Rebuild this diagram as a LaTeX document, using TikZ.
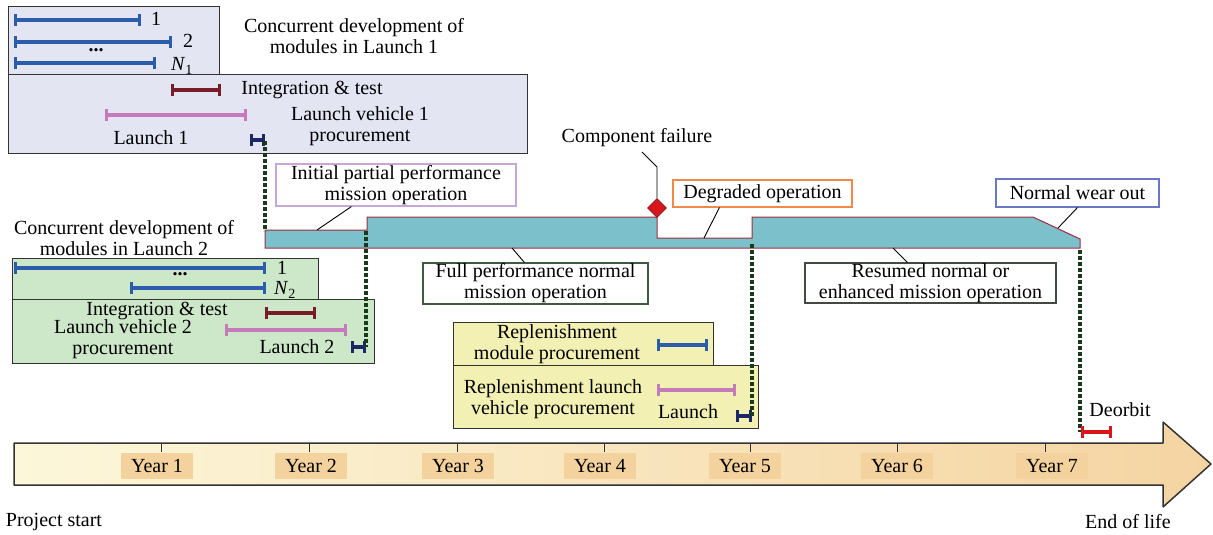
\documentclass[tikz,border=0pt]{standalone}
\usepackage{fontspec}
\setmainfont{Liberation Serif}
\usetikzlibrary{arrows.meta,shapes.geometric}
\definecolor{modblue}{HTML}{2B5DAA}
\definecolor{itred}{HTML}{7A1C28}
\definecolor{lvpink}{HTML}{C57AB9}
\definecolor{lnavy}{HTML}{1C2766}
\definecolor{lav}{HTML}{E3E5F3}
\definecolor{grn}{HTML}{CDE7C9}
\definecolor{yel}{HTML}{F2F0B2}
\definecolor{opsteal}{HTML}{7BC0CA}
\definecolor{opsedge}{HTML}{9B2E3E}
\definecolor{dotg}{HTML}{1A3A1A}
\definecolor{failred}{HTML}{D8161B}
\definecolor{tlA}{HTML}{FCF7DA}
\definecolor{tlB}{HTML}{F5D4A2}
\definecolor{yrbox}{HTML}{F4D29E}
\definecolor{edgeinit}{HTML}{C5A8D8}
\definecolor{edgedeg}{HTML}{F0894A}
\definecolor{edgewear}{HTML}{6A78C8}
\definecolor{edgefull}{HTML}{3F5B3F}
\definecolor{edgeres}{HTML}{404A40}
\definecolor{frame}{HTML}{333333}
\begin{document}
\begin{tikzpicture}[x=1pt,y=-1pt,
  every node/.style={font=\fontsize{20}{21}\selectfont, inner sep=0pt, align=center},
  grpbox/.style={draw=frame, line width=1pt},
  bar/.style={line width=3.4pt, {Bar[width=12pt,line width=2.6pt]}-{Bar[width=12pt,line width=2.6pt]}},
  dotln/.style={draw=dotg, line width=4pt, dash pattern=on 4pt off 2pt},
  callout/.style={draw=black, line width=0.9pt},
  lblbox/.style={draw, fill=white, line width=1.1pt},
  yearlbl/.style={fill=yrbox, minimum width=72pt, minimum height=26pt},
  opsbar/.style={fill=opsteal, draw=opsedge, line width=1pt}
]
\useasboundingbox (0,0) rectangle (1213,535);

% ---------- Launch 1 group ----------
\draw[grpbox, fill=lav] (8,7) rectangle (219,75);
\draw[grpbox, fill=lav] (8,75) rectangle (527,153);
\draw[bar, modblue] (14,20) -- (141,20);
\draw[bar, modblue] (14,42) -- (172,42);
\draw[bar, modblue] (14,63) -- (156,63);
\node (m1) at (156,19) {1};
\node (m2) at (188,41) {2};
\node (md1) at (96,50) {\textbf{...}};
\node (mn1) at (182,66) {\textit{N}\textsubscript{1}};
\node (c1) at (354,36) {\fontsize{20}{25}\selectfont Concurrent development of\\modules in Launch 1};
\draw[bar, itred] (171,90) -- (221,90);
\node (it1) at (312,90) {Integration \& test};
\draw[bar, lvpink] (105,115) -- (247,115);
\node (lv1) at (360,126) {\fontsize{20}{22}\selectfont Launch vehicle 1\\procurement};
\node (la1) at (151,138) {Launch 1};
\draw[bar, lnavy] (250,140) -- (265,140);
\coordinate (l1end) at (265,141);

% ---------- Launch 2 group ----------
\node (c2) at (124,238) {\fontsize{20}{23}\selectfont Concurrent development of\\modules in Launch 2};
\draw[grpbox, fill=grn] (12,258) rectangle (318,299);
\draw[grpbox, fill=grn] (12,299) rectangle (374,363);
\draw[bar, modblue] (14,268) -- (266,268);
\draw[bar, modblue] (130,288) -- (266,288);
\node (m21) at (282,268) {1};
\node (md2) at (180,274) {\textbf{...}};
\node (mn2) at (285,290) {\textit{N}\textsubscript{2}};
\draw[bar, itred] (265,313) -- (316,313);
\node (it2) at (157,311) {Integration \& test};
\draw[bar, lvpink] (225,330) -- (347,330);
\node (lv2) at (123,339) {\fontsize{20}{19}\selectfont Launch vehicle 2\\procurement};
\node (la2) at (297,347) {Launch 2};
\draw[bar, lnavy] (351,347) -- (366,347);
\coordinate (l2end) at (366,347);

% ---------- Replenishment ----------
\draw[grpbox, fill=yel] (453,322) rectangle (713,365);
\draw[grpbox, fill=yel] (453,365) rectangle (758,428);
\node (rp1) at (557,344) {\fontsize{20}{20}\selectfont Replenishment\\module procurement};
\draw[bar, modblue] (657,345) -- (708,345);
\node (rp2) at (553,399) {\fontsize{20}{20}\selectfont Replenishment launch\\vehicle procurement};
\draw[bar, lvpink] (657,390) -- (736,390);
\node (la3) at (688,412) {Launch};
\draw[bar, lnavy] (736,416) -- (752,416);
\coordinate (l3end) at (752,416);

% ---------- Operations bar ----------
\draw[opsbar] (265,248) -- (265,230) -- (367,230) -- (367,217) -- (657,217) -- (657,238)
  -- (752,238) -- (752,217) -- (1033,217) -- (1080,239) -- (1080,248) -- cycle;
\coordinate (opsstart) at (265,231);
\coordinate (opsstep) at (366,231);
\coordinate (opsresume) at (752,244);
\coordinate (opsend) at (1080,250);

% dotted links
\draw[dotln] (l1end) -- (opsstart);
\draw[dotln] (opsstep) -- (l2end);
\draw[dotln] (opsresume) -- (l3end);

% ---------- labels with callouts ----------
\node[lblbox, draw=edgeinit, minimum width=240pt, minimum height=42pt] (init) at (396,185)
  {\fontsize{20}{20}\selectfont Initial partial performance\\mission operation};
\coordinate (initpt) at (317,230);
\draw[callout] ([xshift=76pt]init.south west) -- (initpt);

\node[lblbox, draw=edgedeg, minimum width=179pt, minimum height=27pt] (deg) at (762.5,193.5) {Degraded operation};
\coordinate (degpt) at (704,238);
\draw[callout] ([xshift=47pt]deg.south west) -- (degpt);

\node[lblbox, draw=edgewear, minimum width=163pt, minimum height=28pt] (wear) at (1077.5,193) {Normal wear out};
\coordinate (wearpt) at (1058,228);
\draw[callout] (wear.south) -- (wearpt);

\node[lblbox, draw=edgefull, minimum width=225pt, minimum height=41pt] (full) at (535.5,283.5)
  {\fontsize{20}{20}\selectfont Full performance normal\\mission operation};
\coordinate (fullpt) at (512,248);
\draw[callout] ([xshift=102pt]full.north west) -- (fullpt);

\node[lblbox, draw=edgeres, minimum width=251pt, minimum height=40pt] (res) at (930.5,283)
  {\fontsize{20}{20}\selectfont Resumed normal or\\enhanced mission operation};
\coordinate (respt) at (893,248);
\draw[callout] ([xshift=103pt]res.north west) -- (respt);

\node[diamond, fill=failred, draw=itred, line width=0.6pt, minimum width=19pt, minimum height=19pt] (fail) at (657,208) {};
\node (cf) at (637,138) {Component failure};
\coordinate (cfbend) at (657,167);
\draw[callout] (fail.north) -- (cfbend) -- (642,152);

% ---------- Timeline ----------
\draw[left color=tlA, right color=tlB, draw=frame, line width=1.5pt, line join=bevel]
  (14,443) -- (1163,443) -- (1163,422) -- (1211,464) -- (1163,507) -- (1163,485) -- (14,485) -- cycle;
\foreach \tx in {161,309,457,604,750,897,1045} {
  \draw[frame, line width=1pt] (\tx,443) -- (\tx,452);
}
\node[yearlbl] (y1) at (157,466) {Year 1};
\node[yearlbl] (y2) at (311,466) {Year 2};
\node[yearlbl] (y3) at (458,466) {Year 3};
\node[yearlbl] (y4) at (600,466) {Year 4};
\node[yearlbl] (y5) at (745,466) {Year 5};
\node[yearlbl] (y6) at (897,466) {Year 6};
\node[yearlbl] (y7) at (1052,466) {Year 7};

% deorbit
\coordinate (deo) at (1080,432);
\draw[dotln] (opsend) -- (deo);
\draw[bar, failred] (1081,432) -- (1112,432);
\node (deotxt) at (1120,410) {Deorbit};

\node (ps) at (54,522) {Project start};
\node (eol) at (1128,522) {End of life};
\end{tikzpicture}
\end{document}
